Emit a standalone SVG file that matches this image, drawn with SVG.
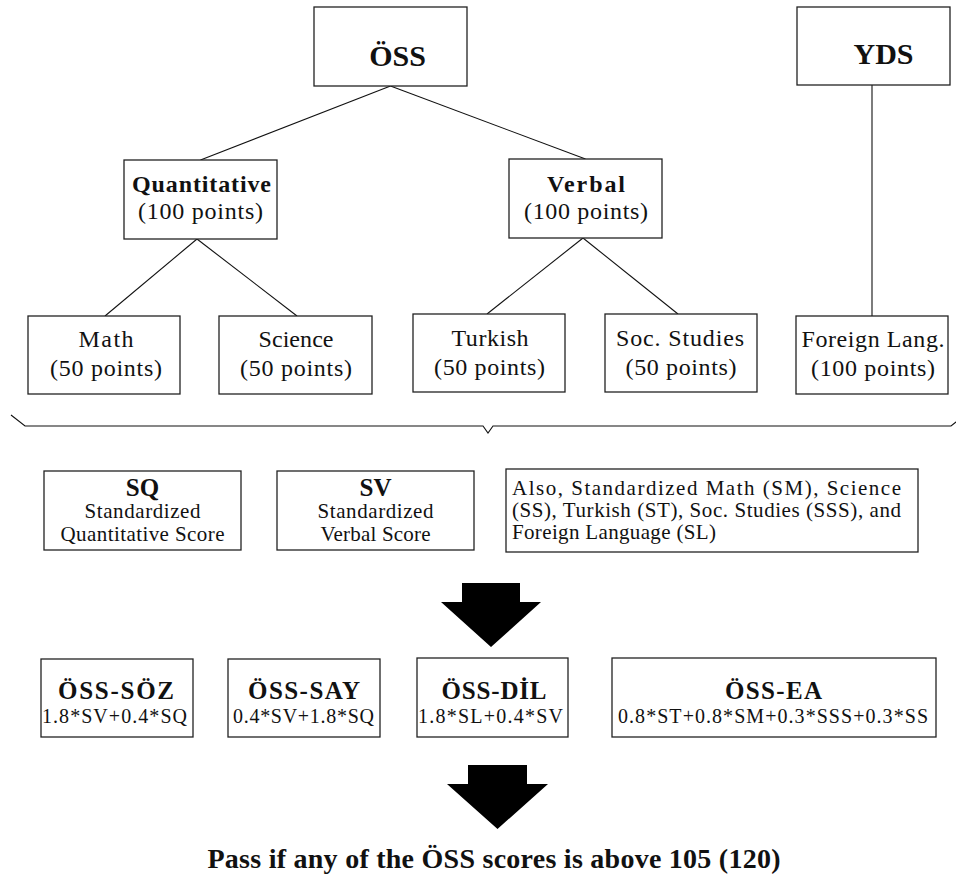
<svg xmlns="http://www.w3.org/2000/svg" width="956" height="878" viewBox="0 0 956 878">
<style>
.box{fill:#fff;stroke:#222;stroke-width:1.3}
.ln{fill:none;stroke:#111;stroke-width:1.1}
.r{font-family:"Liberation Serif","Times New Roman",serif;fill:#111;text-anchor:middle}
.b{font-family:"Liberation Serif","Times New Roman",serif;font-weight:bold;fill:#111;text-anchor:middle}
.l{font-family:"Liberation Serif","Times New Roman",serif;fill:#111;font-size:21px}
.arr{fill:#000}
</style>
<rect width="956" height="878" fill="#fff"/>
<g id="connectors">
<line class="ln" x1="390.5" y1="86" x2="200.5" y2="160"/>
<line class="ln" x1="390.5" y1="86" x2="585.5" y2="159"/>
<line class="ln" x1="872" y1="85" x2="872" y2="316"/>
<line class="ln" x1="197" y1="239" x2="105" y2="316"/>
<line class="ln" x1="197" y1="239" x2="297" y2="316"/>
<line class="ln" x1="583" y1="238" x2="487" y2="314"/>
<line class="ln" x1="583" y1="238" x2="678" y2="314"/>
</g>
<g id="oss">
<rect class="box" x="314" y="7" width="153" height="79"/>
<text class="b" x="397.5" y="66" font-size="30">ÖSS</text>
</g>
<g id="yds">
<rect class="box" x="797" y="7" width="153" height="78"/>
<text class="b" x="883.5" y="64" font-size="30">YDS</text>
</g>
<g id="quantitative">
<rect class="box" x="124" y="160" width="153" height="79"/>
<text class="b" x="201.5" y="192" font-size="24" textLength="139">Quantitative</text>
<text class="r" x="200.5" y="219" font-size="24" textLength="125">(100 points)</text>
</g>
<g id="verbal">
<rect class="box" x="509" y="159" width="153" height="79"/>
<text class="b" x="586" y="192" font-size="24" textLength="78">Verbal</text>
<text class="r" x="586" y="219" font-size="24" textLength="124">(100 points)</text>
</g>
<g id="math">
<rect class="box" x="28" y="316" width="152" height="78"/>
<text class="r" x="106" y="347" font-size="24" textLength="55">Math</text>
<text class="r" x="106" y="376" font-size="24" textLength="112">(50 points)</text>
</g>
<g id="science">
<rect class="box" x="219" y="316" width="153" height="78"/>
<text class="r" x="296" y="347" font-size="24" textLength="75">Science</text>
<text class="r" x="296" y="376" font-size="24" textLength="112">(50 points)</text>
</g>
<g id="turkish">
<rect class="box" x="413" y="314" width="152" height="78"/>
<text class="r" x="490" y="346" font-size="24" textLength="77">Turkish</text>
<text class="r" x="489.5" y="375" font-size="24" textLength="111">(50 points)</text>
</g>
<g id="socstudies">
<rect class="box" x="605" y="314" width="152" height="78"/>
<text class="r" x="680" y="346" font-size="24" textLength="128">Soc. Studies</text>
<text class="r" x="681" y="375" font-size="24" textLength="111">(50 points)</text>
</g>
<g id="foreign">
<rect class="box" x="796" y="316" width="152" height="78"/>
<text class="r" x="873" y="347" font-size="24" textLength="143">Foreign Lang.</text>
<text class="r" x="873" y="376" font-size="24" textLength="124">(100 points)</text>
</g>
<g id="brace">
<path class="ln" d="M11,415 L25,426 L483,426 L488,433 L493,426 L951,426 L965,415"/>
</g>
<g id="sq">
<rect class="box" x="44" y="471" width="197" height="79"/>
<text class="b" x="142.5" y="496" font-size="25">SQ</text>
<text class="r" x="142.5" y="518" font-size="21" textLength="116">Standardized</text>
<text class="r" x="142.5" y="541" font-size="21" textLength="164">Quantitative Score</text>
</g>
<g id="sv">
<rect class="box" x="277" y="471" width="197" height="79"/>
<text class="b" x="375.5" y="496" font-size="25">SV</text>
<text class="r" x="375.5" y="518" font-size="21" textLength="116">Standardized</text>
<text class="r" x="375.5" y="541" font-size="21" textLength="110">Verbal Score</text>
</g>
<g id="also">
<rect class="box" x="506" y="469" width="412" height="83"/>
<text class="l" x="512" y="495" textLength="389" lengthAdjust="spacing">Also, Standardized Math (SM), Science</text>
<text class="l" x="512" y="517" textLength="389" lengthAdjust="spacing">(SS), Turkish (ST), Soc. Studies (SSS), and</text>
<text class="l" x="512" y="539" textLength="204">Foreign Language (SL)</text>
</g>
<g id="arrow1">
<polygon class="arr" points="462,583 520,583 520,602 541,602 491,647 441,602 462,602"/>
</g>
<g id="oss-soz">
<rect class="box" x="41" y="659" width="152" height="78"/>
<text class="b" x="116" y="699" font-size="25" textLength="116">ÖSS-SÖZ</text>
<text class="r" x="114.5" y="723" font-size="20" textLength="145">1.8*SV+0.4*SQ</text>
</g>
<g id="oss-say">
<rect class="box" x="228" y="659" width="152" height="78"/>
<text class="b" x="304" y="699" font-size="25" textLength="112">ÖSS-SAY</text>
<text class="r" x="303.5" y="723" font-size="20" textLength="141">0.4*SV+1.8*SQ</text>
</g>
<g id="oss-dil">
<rect class="box" x="417" y="658" width="151" height="79"/>
<text class="b" x="494" y="699" font-size="25" textLength="105">ÖSS-DİL</text>
<text class="r" x="490.5" y="723" font-size="20" textLength="145">1.8*SL+0.4*SV</text>
</g>
<g id="oss-ea">
<rect class="box" x="612" y="658" width="324" height="79"/>
<text class="b" x="773.5" y="699" font-size="25" textLength="97">ÖSS-EA</text>
<text class="r" x="773" y="723" font-size="20" textLength="310">0.8*ST+0.8*SM+0.3*SSS+0.3*SS</text>
</g>
<g id="arrow2">
<polygon class="arr" points="468,765 527,765 527,784 548,784 497.5,829 447,784 468,784"/>
</g>
<g id="result">
<text class="b" x="494" y="868" font-size="28" textLength="573">Pass if any of the ÖSS scores is above 105 (120)</text>
</g>
</svg>
